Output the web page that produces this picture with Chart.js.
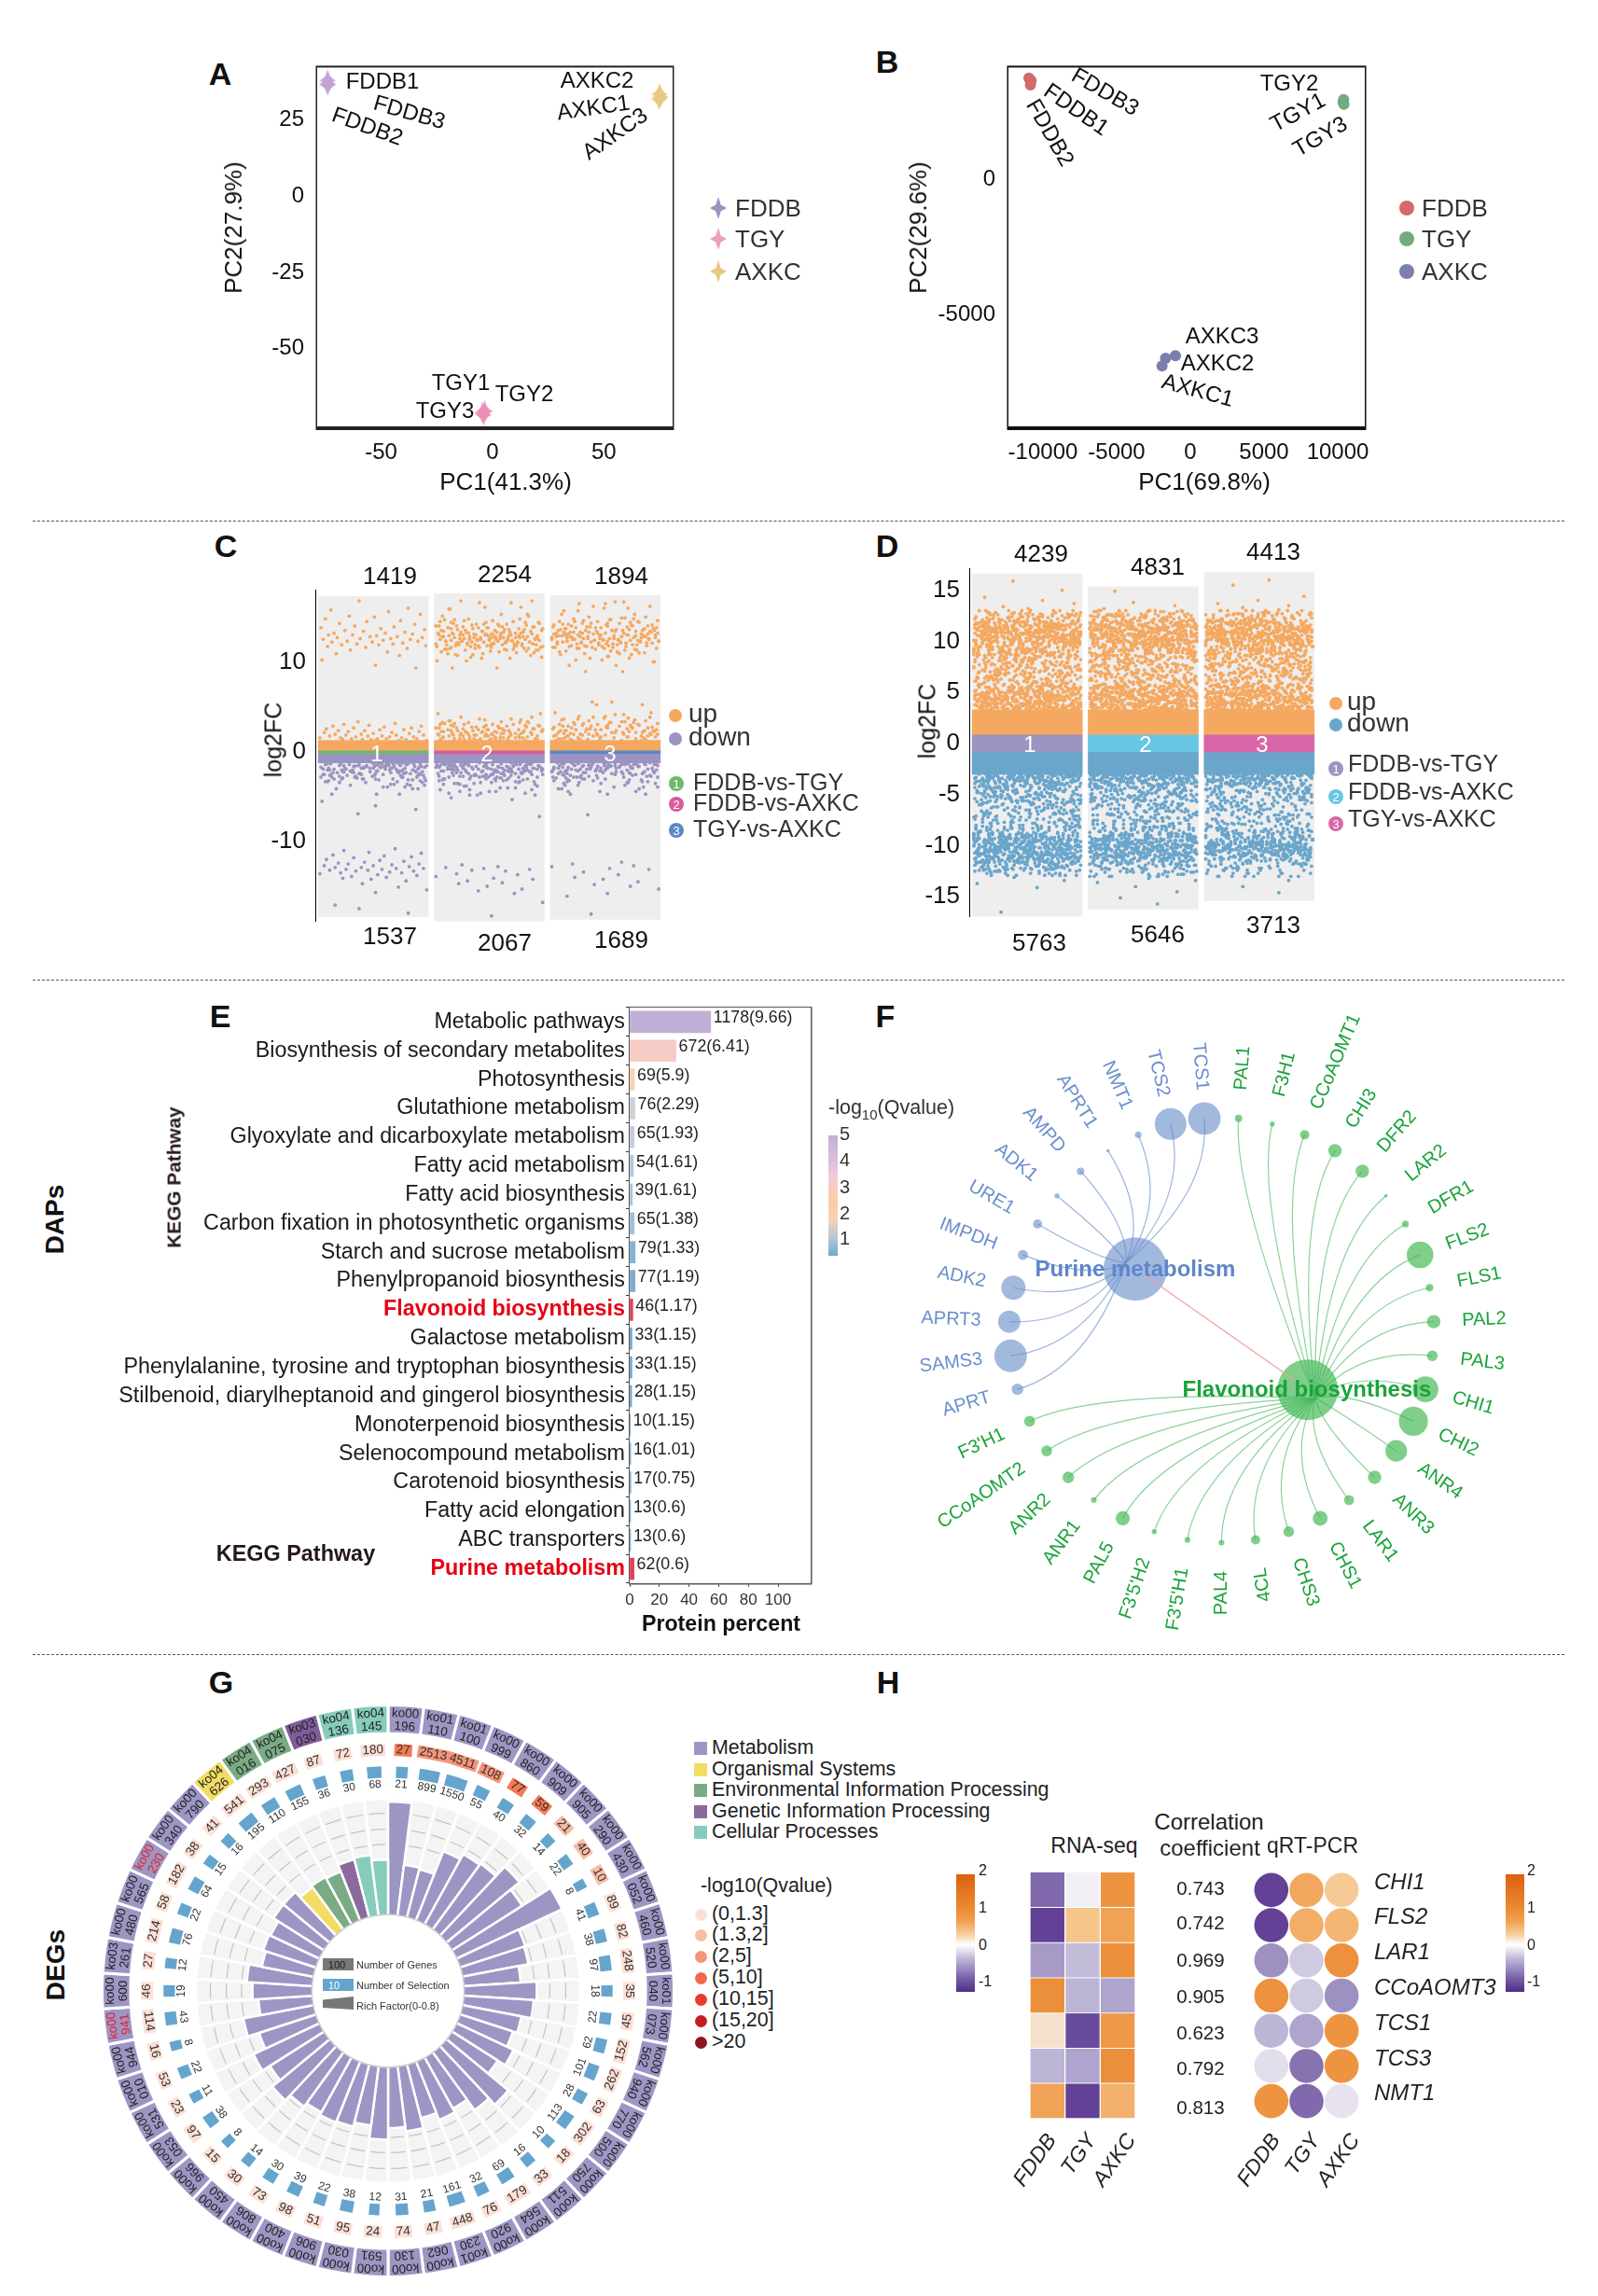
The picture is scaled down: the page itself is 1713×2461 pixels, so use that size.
<!DOCTYPE html>
<html><head><meta charset="utf-8"><title>Figure</title>
<script src="https://cdn.jsdelivr.net/npm/chart.js@4"></script>
<style>
body{margin:0;background:#fff;width:1713px;height:2461px;position:relative;overflow:hidden;font-family:"Liberation Sans",Arial,sans-serif;color:#111}
canvas{position:absolute}
.t{position:absolute;white-space:nowrap;line-height:1}
.b{position:absolute}
sub{font-size:70%;line-height:0}
</style></head><body>
<script>
// panel A and B, PCA scores
const groups = ['FDDB','TGY','AXKC'];
const aX = {FDDB:[-74,-74,-74], TGY:[-4.5,-3.5,-4], AXKC:[75,75.5,74.8]};
const aY = {FDDB:[38,37,36.5], TGY:[-71,-70.5,-71.7], AXKC:[33.5,32.5,31.8]};
const bX = {FDDB:[-10950,-10800,-10850], TGY:[10400,10360,10420], AXKC:[-1010,-1680,-1920]};
const bY = {FDDB:[3750,3650,3500], TGY:[2950,2860,2780], AXKC:[-6520,-6620,-6900]};
const aXTicks = [-50,0,50], aYTicks = [25,0,-25,-50];
const bXTicks = [-10000,-5000,0,5000,10000], bYTicks = [0,-5000];

// panel C, log2FC clouds
const cCounts = {up:[1419,2254,1894], down:[1537,2067,1689]};
const cUp1 = [16.9,16.1,15.9,15.7,15.4,15.2,15.1,14.9,14.7,14.6,14.4,14.3,14.1,14.0,13.9,13.8,13.7,13.6,13.5,13.4,13.3,13.3,13.2,13.1,13.1,13.0,12.9,12.9,12.8,12.8,12.7,12.7,12.6,12.6,12.5,12.4,12.4,12.3,12.3,12.2,12.1,12.1,12.0,12.0,11.9,11.8,11.7,11.6,11.4,11.2,11.0,10.8,10.3,9.7,9.4,
 3.4,3.2,3.1,3.0,2.9,2.9,2.8,2.7,2.7,2.6,2.5,2.5,2.4,2.4,2.3,2.3,2.2,2.2,2.1,2.1,2.0,2.0,1.9,1.9,1.9,1.8,1.8,1.8,1.7,1.7,1.7,1.6,1.6,1.6,1.5,1.5,1.5,1.5,1.4,1.4,1.4,1.4,1.3,1.3,1.3];
const cUp2 = [16.9,16.7,16.2,16.0,15.4,15.2,14.9,14.8,14.7,14.6,14.5,14.5,14.4,14.3,14.3,14.2,14.1,14.1,14.0,14.0,13.9,13.9,13.8,13.8,13.7,13.7,13.6,13.6,13.5,13.5,13.4,13.4,13.4,13.3,13.3,13.3,13.2,13.2,13.2,13.1,13.1,13.1,13.0,13.0,13.0,12.9,12.9,12.9,12.8,12.8,12.8,12.8,12.7,12.7,12.7,12.6,12.6,12.6,12.6,12.5,12.5,12.5,12.4,12.4,12.4,12.3,12.3,12.3,12.2,12.2,12.2,12.1,12.1,12.1,12.0,12.0,12.0,11.9,11.9,11.9,11.8,11.8,11.7,11.7,11.6,11.6,11.5,11.5,11.4,11.4,11.3,11.2,11.1,11.0,10.9,10.8,10.6,10.5,10.2,9.4,
 4.3,3.9,3.7,3.6,3.5,3.4,3.3,3.3,3.2,3.1,3.1,3.0,3.0,2.9,2.9,2.8,2.8,2.7,2.7,2.6,2.6,2.5,2.5,2.5,2.4,2.4,2.4,2.3,2.3,2.3,2.2,2.2,2.2,2.1,2.1,2.1,2.0,2.0,2.0,1.9,1.9,1.9,1.8,1.8,1.8,1.7,1.7,1.7,1.6,1.6,1.6,1.5,1.5,1.5,1.4,1.4,1.4,1.3,1.3,1.3];
const cUp3 = [16.8,16.6,16.3,16.1,15.8,15.4,15.1,15.0,14.9,14.8,14.7,14.6,14.6,14.5,14.4,14.4,14.3,14.2,14.2,14.1,14.1,14.0,14.0,13.9,13.9,13.8,13.8,13.7,13.7,13.6,13.6,13.6,13.5,13.5,13.4,13.4,13.4,13.3,13.3,13.3,13.2,13.2,13.2,13.1,13.1,13.1,13.0,13.0,13.0,12.9,12.9,12.9,12.8,12.8,12.8,12.7,12.7,12.7,12.6,12.6,12.6,12.5,12.5,12.5,12.4,12.4,12.4,12.3,12.3,12.3,12.2,12.2,12.2,12.1,12.1,12.0,12.0,11.9,11.9,11.8,11.8,11.7,11.7,11.6,11.6,11.5,11.4,11.3,11.2,11.1,11.0,10.9,10.7,10.5,10.3,10.1,9.7,9.0,
 5.6,5.3,4.4,4.2,4.0,3.9,3.8,3.7,3.6,3.5,3.4,3.3,3.3,3.2,3.1,3.1,3.0,3.0,2.9,2.9,2.8,2.8,2.7,2.7,2.6,2.6,2.5,2.5,2.4,2.4,2.4,2.3,2.3,2.2,2.2,2.2,2.1,2.1,2.0,2.0,2.0,1.9,1.9,1.8,1.8,1.8,1.7,1.7,1.6,1.6,1.5,1.5,1.4,1.4,1.3,1.3];
const cDown1 = [-1.2,-1.2,-1.3,-1.3,-1.3,-1.4,-1.4,-1.4,-1.5,-1.5,-1.5,-1.6,-1.6,-1.6,-1.7,-1.7,-1.7,-1.8,-1.8,-1.8,-1.9,-1.9,-2.0,-2.0,-2.0,-2.1,-2.1,-2.2,-2.2,-2.3,-2.3,-2.4,-2.4,-2.5,-2.5,-2.6,-2.6,-2.7,-2.8,-2.8,-2.9,-3.0,-3.0,-3.1,-3.2,-3.3,-3.4,-3.6,-3.7,-3.9,-4.1,-4.7,-5.5,-6.0,-6.4,-6.9,
 -10.8,-11.0,-11.2,-11.3,-11.5,-11.6,-11.7,-11.8,-12.0,-12.1,-12.2,-12.3,-12.4,-12.5,-12.5,-12.6,-12.7,-12.7,-12.8,-12.9,-12.9,-13.0,-13.0,-13.1,-13.1,-13.2,-13.2,-13.3,-13.3,-13.4,-13.5,-13.5,-13.6,-13.7,-13.8,-13.9,-14.0,-14.1,-14.2,-14.4,-14.7,-15.1,-15.4,-15.7,-17.1,-17.5,-18.0];
const cDown2 = [-1.2,-1.2,-1.2,-1.3,-1.3,-1.3,-1.4,-1.4,-1.4,-1.5,-1.5,-1.5,-1.6,-1.6,-1.6,-1.7,-1.7,-1.7,-1.8,-1.8,-1.8,-1.9,-1.9,-1.9,-2.0,-2.0,-2.0,-2.1,-2.1,-2.2,-2.2,-2.2,-2.3,-2.3,-2.4,-2.4,-2.5,-2.5,-2.6,-2.6,-2.7,-2.7,-2.8,-2.8,-2.9,-3.0,-3.0,-3.1,-3.2,-3.3,-3.4,-3.5,-3.6,-3.8,-4.0,-4.2,-4.4,-4.6,-4.8,-5.1,-5.3,-7.2,
 -12.6,-12.8,-12.9,-13.0,-13.1,-13.2,-13.3,-13.6,-13.7,-13.9,-14.1,-14.2,-14.4,-14.6,-14.7,-15.0,-15.3,-15.5,-15.8,-16.8,-18.3];
const cDown3 = [-1.2,-1.2,-1.2,-1.3,-1.3,-1.3,-1.4,-1.4,-1.4,-1.5,-1.5,-1.5,-1.6,-1.6,-1.6,-1.7,-1.7,-1.8,-1.8,-1.8,-1.9,-1.9,-2.0,-2.0,-2.1,-2.1,-2.2,-2.2,-2.3,-2.3,-2.4,-2.4,-2.5,-2.6,-2.6,-2.7,-2.8,-2.8,-2.9,-3.0,-3.1,-3.2,-3.3,-3.4,-3.5,-3.7,-3.9,-4.1,-4.4,-4.7,-7.0,
 -12.3,-12.5,-12.7,-12.8,-13.0,-13.1,-13.4,-13.7,-14.0,-14.2,-14.5,-14.8,-15.0,-15.3,-15.8,-16.1,-18.1];

// panel D
const dCounts = {up:[4239,4831,4413], down:[5763,5646,3713]};
const dUp1 = [15.9,15.0,14.3,14.0,13.7,13.4,13.2,13.0,12.8,12.7,12.6,12.5,12.4,12.3,12.2,12.1,12.0,11.9,11.9,11.8,11.7,11.7,11.6,11.6,11.5,11.5,11.4,11.4,11.3,11.3,11.2,11.2,11.1,11.1,11.0,11.0,10.9,10.9,10.8,10.8,10.7,10.7,10.6,10.6,10.5,10.5,10.4,10.4,10.3,10.3,10.2,10.2,10.1,10.1,10.0,10.0,9.9,9.9,9.8,9.8,9.7,9.7,9.6,9.5,9.5,9.4,9.4,9.3,9.2,9.2,9.1,9.0,9.0,8.9,8.8,8.7,8.7,8.6,8.5,8.4,8.3,8.2,8.1,8.0,7.9,7.8,7.7,7.6,7.5,7.4,7.3,7.2,7.1,7.0,6.9,6.8,6.7,6.6,6.5,6.4,6.3,6.2,6.1,6.0,5.9,5.8,5.7,5.6,5.5,5.5,5.4,5.3,5.3,5.2,5.1,5.1,5.0,5.0,4.9,4.9,4.8,4.8,4.7,4.7,4.6,4.6,4.5,4.5,4.4,4.4,4.3,4.3,4.2,4.2,4.1,4.1,4.0,4.0,3.9,3.9,3.8,3.8,3.7,3.7,3.6,3.6,3.5,3.5,3.4,3.4,3.3,3.3];
const dUp2 = [14.9,13.8,13.5,13.2,13.0,12.9,12.7,12.6,12.5,12.4,12.3,12.2,12.1,12.0,12.0,11.9,11.8,11.8,11.7,11.6,11.6,11.5,11.5,11.4,11.4,11.3,11.3,11.2,11.2,11.1,11.1,11.0,11.0,10.9,10.9,10.8,10.8,10.7,10.7,10.6,10.6,10.5,10.5,10.4,10.4,10.3,10.3,10.2,10.2,10.1,10.1,10.0,10.0,9.9,9.9,9.8,9.8,9.7,9.7,9.6,9.6,9.5,9.5,9.4,9.4,9.3,9.2,9.2,9.1,9.1,9.0,8.9,8.9,8.8,8.7,8.6,8.6,8.5,8.4,8.3,8.2,8.1,8.0,7.9,7.8,7.7,7.6,7.5,7.4,7.3,7.2,7.1,7.0,6.9,6.8,6.7,6.6,6.5,6.4,6.3,6.2,6.1,6.0,5.9,5.8,5.7,5.6,5.6,5.5,5.4,5.4,5.3,5.2,5.2,5.1,5.1,5.0,5.0,4.9,4.9,4.8,4.8,4.7,4.7,4.6,4.6,4.5,4.5,4.4,4.4,4.3,4.3,4.2,4.2,4.1,4.1,4.0,4.0,3.9,3.9,3.8,3.8,3.7,3.7,3.6,3.6,3.5,3.5,3.4,3.4,3.3,3.3];
const dUp3 = [16.0,15.5,14.4,14.0,13.7,13.5,13.3,13.1,13.0,12.8,12.7,12.6,12.5,12.3,12.2,12.1,12.0,12.0,11.9,11.8,11.8,11.7,11.6,11.6,11.5,11.5,11.4,11.4,11.3,11.3,11.2,11.2,11.1,11.1,11.0,11.0,10.9,10.9,10.8,10.8,10.7,10.7,10.6,10.6,10.5,10.5,10.4,10.4,10.3,10.3,10.2,10.2,10.1,10.1,10.0,10.0,9.9,9.9,9.8,9.8,9.7,9.7,9.6,9.6,9.5,9.5,9.4,9.3,9.3,9.2,9.1,9.1,9.0,8.9,8.8,8.8,8.7,8.6,8.5,8.4,8.3,8.2,8.1,8.0,7.9,7.8,7.7,7.6,7.5,7.4,7.3,7.2,7.1,7.0,6.9,6.8,6.7,6.6,6.5,6.4,6.3,6.2,6.1,6.0,5.9,5.8,5.7,5.6,5.6,5.5,5.4,5.4,5.3,5.2,5.2,5.1,5.1,5.0,5.0,4.9,4.9,4.8,4.8,4.7,4.7,4.6,4.6,4.5,4.5,4.4,4.4,4.3,4.3,4.2,4.2,4.1,4.1,4.0,4.0,3.9,3.9,3.8,3.8,3.7,3.7,3.6,3.6,3.5,3.5,3.4,3.4,3.3,3.3];
const dDown1 = [-2.7,-2.7,-2.8,-2.8,-2.9,-2.9,-3.0,-3.0,-3.1,-3.1,-3.2,-3.2,-3.3,-3.3,-3.4,-3.4,-3.5,-3.6,-3.6,-3.7,-3.7,-3.8,-3.9,-3.9,-4.0,-4.1,-4.2,-4.2,-4.3,-4.4,-4.5,-4.6,-4.7,-4.8,-4.9,-5.0,-5.1,-5.2,-5.3,-5.4,-5.5,-5.6,-5.7,-5.8,-5.9,-6.0,-6.2,-6.3,-6.5,-6.6,-6.8,-6.9,-7.1,-7.2,-7.4,-7.5,-7.7,-7.8,-8.0,-8.1,-8.2,-8.3,-8.4,-8.5,-8.6,-8.7,-8.8,-8.8,-8.9,-9.0,-9.0,-9.1,-9.2,-9.2,-9.3,-9.3,-9.4,-9.4,-9.5,-9.5,-9.6,-9.6,-9.7,-9.7,-9.8,-9.8,-9.9,-9.9,-10.0,-10.0,-10.1,-10.1,-10.2,-10.2,-10.3,-10.3,-10.4,-10.4,-10.5,-10.5,-10.6,-10.6,-10.7,-10.7,-10.8,-10.8,-10.9,-10.9,-11.0,-11.0,-11.1,-11.1,-11.2,-11.2,-11.3,-11.3,-11.4,-11.5,-11.5,-11.6,-11.6,-11.7,-11.8,-11.9,-12.0,-12.1,-12.2,-12.3,-12.4,-12.5,-12.7,-12.9,-13.1,-13.4,-13.7,-14.1,-16.5];
const dDown2 = [-2.7,-2.7,-2.8,-2.8,-2.9,-2.9,-3.0,-3.0,-3.1,-3.1,-3.2,-3.2,-3.3,-3.3,-3.4,-3.4,-3.5,-3.5,-3.6,-3.6,-3.7,-3.8,-3.8,-3.9,-4.0,-4.0,-4.1,-4.2,-4.3,-4.3,-4.4,-4.5,-4.6,-4.7,-4.8,-4.9,-5.0,-5.1,-5.2,-5.3,-5.4,-5.5,-5.6,-5.7,-5.9,-6.0,-6.1,-6.3,-6.4,-6.6,-6.7,-6.9,-7.0,-7.2,-7.3,-7.5,-7.6,-7.8,-7.9,-8.1,-8.2,-8.3,-8.4,-8.5,-8.6,-8.7,-8.8,-8.9,-8.9,-9.0,-9.1,-9.1,-9.2,-9.3,-9.3,-9.4,-9.4,-9.5,-9.5,-9.6,-9.6,-9.7,-9.7,-9.8,-9.8,-9.9,-9.9,-10.0,-10.0,-10.1,-10.1,-10.2,-10.2,-10.3,-10.3,-10.4,-10.4,-10.5,-10.5,-10.6,-10.6,-10.7,-10.7,-10.8,-10.8,-10.9,-10.9,-11.0,-11.0,-11.1,-11.2,-11.2,-11.3,-11.4,-11.4,-11.5,-11.6,-11.7,-11.8,-11.9,-12.0,-12.2,-12.3,-12.5,-12.6,-12.8,-13.0,-13.2,-13.4,-13.6,-14.0,-14.5,-15.1,-15.7];
const dDown3 = [-2.7,-2.7,-2.8,-2.8,-2.9,-2.9,-3.0,-3.0,-3.1,-3.1,-3.2,-3.2,-3.3,-3.4,-3.4,-3.5,-3.6,-3.6,-3.7,-3.8,-3.9,-3.9,-4.0,-4.1,-4.2,-4.3,-4.4,-4.5,-4.6,-4.7,-4.8,-4.9,-5.0,-5.2,-5.3,-5.5,-5.6,-5.8,-5.9,-6.1,-6.2,-6.4,-6.5,-6.7,-6.9,-7.0,-7.2,-7.4,-7.6,-7.8,-7.9,-8.1,-8.3,-8.4,-8.5,-8.6,-8.7,-8.8,-8.9,-9.0,-9.1,-9.2,-9.2,-9.3,-9.4,-9.4,-9.5,-9.6,-9.6,-9.7,-9.7,-9.8,-9.8,-9.9,-9.9,-10.0,-10.0,-10.1,-10.1,-10.2,-10.2,-10.3,-10.3,-10.4,-10.4,-10.5,-10.5,-10.6,-10.7,-10.7,-10.8,-10.9,-10.9,-11.0,-11.1,-11.2,-11.3,-11.4,-11.5,-11.7,-11.8,-12.0,-12.2,-12.4,-12.7,-13.0,-13.4,-14.0,-14.6];
// horizontal scatter inside a strip, typed once and reused
const jitter = [.37,.82,.11,.64,.93,.28,.51,.06,.75,.44,.19,.88,.33,.69,.02,.57,.97,.24,.41,.79,.14,.61,.86,.31,.09,.53,.72,.47,.95,.17,.66,.38,.84,.04,.59,.26,.91,.49,.12,.77,.35,.68,.21,.55,.98,.08,.43,.81,.29,.63,.16,.74,.03,.52,.89,.36,.7,.23,.46,.94,.13,.6,.85,.32,.07,.56,.78,.42,.18,.92,.27,.67,.05,.5,.83,.39,.15,.71,.96,.25,.58,.1,.45,.87,.34,.65,.2,.76,.01,.54,.9,.3,.62,.22,.48,.8,.4,.73,.99,.52,.15];

// panel E
const keggNames = ['Metabolic pathways','Biosynthesis of secondary metabolites','Photosynthesis','Glutathione metabolism','Glyoxylate and dicarboxylate metabolism','Fatty acid metabolism','Fatty acid biosynthesis','Carbon fixation in photosynthetic organisms','Starch and sucrose metabolism','Phenylpropanoid biosynthesis','Flavonoid biosynthesis','Galactose metabolism','Phenylalanine, tyrosine and tryptophan biosynthesis','Stilbenoid, diarylheptanoid and gingerol biosynthesis','Monoterpenoid biosynthesis','Selenocompound metabolism','Carotenoid biosynthesis','Fatty acid elongation','ABC transporters','Purine metabolism'];
const keggCounts = [1178,672,69,76,65,54,39,65,79,77,46,33,33,28,10,16,17,13,13,62];
const keggQ = ['9.66','6.41','5.9','2.29','1.93','1.61','1.61','1.38','1.33','1.19','1.17','1.15','1.15','1.15','1.15','1.01','0.75','0.6','0.6','0.6'];
const keggPercent = [54.6,31.2,3.2,3.5,3.0,2.5,1.8,3.0,3.7,3.6,2.1,1.5,1.5,1.3,0.5,0.7,0.8,0.6,0.6,2.9];
const keggColors = ['#c1b0d6','#f6cac5','#fbd2b0','#d0d0d0','#c5cfdb','#b5c9dc','#a9c4db','#9dbfda','#86b2d2','#7fadd0','#e0405a','#6fa5cb','#6fa5cb','#6fa5cb','#6fa5cb','#6fa5cb','#6fa5cb','#6fa5cb','#6fa5cb','#e0405a'];
const keggTicks = [0,20,40,60,80,100];
const keggRed = ['Flavonoid biosynthesis','Purine metabolism'];

// panel F, leaves go clockwise from the top
const leafNames = ['PAL1','F3H1','CCoAOMT1','CHI3','DFR2','LAR2','DFR1','FLS2','FLS1','PAL2','PAL3','CHI1','CHI2','ANR4','ANR3','LAR1','CHS1','CHS3','4CL','PAL4',"F3'5'H1","F3'5'H2",'PAL5','ANR1','ANR2','CCoAOMT2',"F3'H1",
 'APRT','SAMS3','APRT3','ADK2','IMPDH','URE1','ADK1','AMPD','APRT1','NMT1','TCS2','TCS1'];
const leafSizes = [4,2.7,5,7.2,7.2,1.8,3.6,14.3,4,7.2,5.8,13.8,15.6,11.6,7.2,5.4,8,5.8,5,3.1,3.1,2.7,7.6,3.1,6.2,5.8,5.8,
 6.2,17.4,12,13,5.4,4.9,2.7,4,1.8,3.6,17,17.4];
const flavonoidLeafCount = 27;

// panel G
const koIds = ['ko00196','ko01110','ko01100','ko00999','ko00860','ko00909','ko00905','ko00290','ko00430','ko00052','ko00460','ko00520','ko01040','ko00073','ko00562','ko00940','ko00770','ko00500','ko00750','ko00511','ko00564','ko00920','ko01230','ko00062','ko00130','ko00591','ko00030','ko00906','ko00400','ko00806','ko00450','ko00966','ko00053','ko00531','ko00010','ko00944','ko00941','ko00600','ko03261','ko00480','ko00565','ko00230','ko00340','ko00790','ko04626','ko04016','ko04075','ko03030','ko04136','ko04145'];
const koOrganismal = ['ko04626'], koEnvironmental = ['ko04016','ko04075'], koGenetic = ['ko03030'], koCellular = ['ko04136','ko04145'];
const koRed = ['ko00230','ko00941'];
const geneNumbers = [27,2513,4511,108,77,59,21,40,10,89,82,248,35,45,152,262,63,302,18,33,179,76,448,47,74,24,95,51,98,73,30,15,97,23,53,16,114,46,27,214,58,182,38,41,541,293,427,87,72,180];
const qBins = [3,2,2,2,3,3,1,1,1,0,0,0,0,0,0,0,0,0,0,0,0,0,0,0,0,0,0,0,0,0,0,0,0,0,0,0,0,0,0,0,0,0,0,0,0,0,0,0,0,0];
const selectionNumbers = [21,899,1550,55,40,32,14,22,8,41,38,97,18,22,62,101,28,113,10,16,69,32,161,21,31,12,38,22,39,30,14,8,38,11,22,8,43,19,12,76,22,64,15,16,195,110,155,36,30,68];
const richFactor = [.78,.35,.34,.51,.55,.56,.65,.57,.80,.47,.46,.39,.50,.48,.41,.38,.43,.37,.55,.49,.40,.43,.38,.45,.42,.50,.41,.44,.45,.43,.46,.51,.44,.50,.41,.49,.37,.41,.45,.36,.38,.37,.41,.41,.36,.37,.36,.41,.42,.38];
const richGrid = [.485,.59,.70];
const pathwayLegend = ['Metabolism','Organismal Systems','Environmental Information Processing','Genetic Information Processing','Cellular Processes'];
const qLegend = ['(0,1.3]','(1.3,2]','(2,5]','(5,10]','(10,15]','(15,20]','>20'];

// panel H
const hGenes = ['CHI1','FLS2','LAR1','CCoAOMT3','TCS1','TCS3','NMT1'];
const correlations = ['0.743','0.742','0.969','0.905','0.623','0.792','0.813'];
const rnaSeq = [[-.85,-.03,1],[-1.05,.5,.85],[-.6,-.4,1.1],[1.1,-.45,-.55],[.2,-1,.95],[-.45,-.55,1.1],[.85,-1.05,.7]];
const qpcr = [[-1.05,.8,.45],[-1.05,.75,.65],[-.65,-.3,1.05],[1.05,-.3,-.65],[-.45,-.55,1],[-.15,-.8,1],[1,-.85,-.12]];

// ---- helpers ----
Chart.defaults.font.family = '"Liberation Sans",Arial,sans-serif';
Chart.defaults.color = '#111';
Chart.defaults.animation = false;
Chart.defaults.responsive = false;
Chart.defaults.devicePixelRatio = 1;
Chart.defaults.plugins.legend.display = false;
Chart.defaults.plugins.tooltip.enabled = false;

function addCanvas(x, y, w, h) {
  const c = document.createElement('canvas');
  c.width = w; c.height = h;
  c.style.left = x + 'px'; c.style.top = y + 'px';
  document.body.appendChild(c);
  return c.getContext('2d');
}
function txt(s, x, y, o) {
  o = o || {};
  const e = document.createElement('div');
  e.className = 't';
  e.innerHTML = s;
  e.style.left = x + 'px'; e.style.top = y + 'px';
  e.style.fontSize = (o.size || 24) + 'px';
  if (o.bold) e.style.fontWeight = 'bold';
  if (o.italic) e.style.fontStyle = 'italic';
  if (o.color) e.style.color = o.color;
  const tx = o.left ? '0' : '-50%';
  e.style.transform = 'translate(' + tx + ',-50%) rotate(' + (o.rot || 0) + 'deg)';
  document.body.appendChild(e);
}
function box(x, y, w, h, css) {
  const e = document.createElement('div');
  e.className = 'b';
  e.style.cssText = 'left:' + x + 'px;top:' + y + 'px;width:' + w + 'px;height:' + h + 'px;' + css;
  document.body.appendChild(e);
}
function dot(x, y, r, col) { box(x - r, y - r, 2 * r, 2 * r, 'border-radius:50%;background:' + col); }
function setTicks(arr) { return s => { s.ticks = arr.map(v => ({value: v})); }; }

// x0..x1, y0..y1 is the plot area in page pixels
function plot(x0, y0, x1, y1, cfg, pads) {
  const p = Object.assign({L: 110, R: 50, T: 20, B: 60}, pads || {});
  const ctx = addCanvas(x0 - p.L, y0 - p.T, p.L + x1 - x0 + p.R, p.T + y1 - y0 + p.B);
  const sc = cfg.options.scales;
  sc.x.afterFit = s => { s.height = p.B; };
  sc.y.afterFit = s => { s.width = p.L; };
  cfg.options.layout = {padding: {top: p.T, right: p.R, left: 0, bottom: 0}};
  return new Chart(ctx, cfg);
}
function frame(widths, col) {
  return {id: 'frame', afterDraw(ch) {
    const a = ch.chartArea, c = ch.ctx;
    c.save(); c.fillStyle = col;
    c.fillRect(a.left - widths.l, a.top - widths.t, widths.l, a.bottom - a.top + widths.t + widths.b);
    c.fillRect(a.right, a.top - widths.t, widths.r, a.bottom - a.top + widths.t + widths.b);
    c.fillRect(a.left, a.top - widths.t, a.right - a.left, widths.t);
    c.fillRect(a.left, a.bottom, a.right - a.left, widths.b);
    c.restore();
  }};
}
function starMark(col) {
  const c = document.createElement('canvas');
  c.width = 18; c.height = 24;
  const g = c.getContext('2d');
  g.fillStyle = col;
  g.beginPath(); g.moveTo(9, 0);
  g.quadraticCurveTo(11, 10, 18, 12); g.quadraticCurveTo(11, 14, 9, 24);
  g.quadraticCurveTo(7, 14, 0, 12); g.quadraticCurveTo(7, 10, 9, 0);
  g.fill();
  return c;
}
function pts(xs, ys) { return xs.map((v, i) => ({x: v, y: ys[i]})); }
function putText(c, s, x, y, rot, font, col, align) {
  c.save(); c.translate(x, y); c.rotate(rot * Math.PI / 180);
  c.font = font; c.fillStyle = col; c.textAlign = align || 'center'; c.textBaseline = 'middle';
  c.fillText(s, 0, 0); c.restore();
}
const FS = '"Liberation Sans",Arial,sans-serif';

// ---- panel letters, rules, side titles ----
[['A',236,79],['B',951,66],['C',242,585],['D',951,585],['E',236,1089],['F',949,1089],['G',237,1803],['H',952,1803]].forEach(a => txt(a[0], a[1], a[2], {size: 34, bold: true}));
[558,1050,1773].forEach(y => box(35, y, 1642, 0, 'border-top:1.5px dashed #555'));
txt('DAPs', 59, 1307, {size: 28, bold: true, rot: -90});
txt('DEGs', 60, 2106, {size: 28, bold: true, rot: -90});

// ---- A ----
const tickA = {font: {size: 24}, padding: 6, autoSkip: false, maxRotation: 0, callback: v => String(v)};
const colA = {FDDB: '#c2a3d3', TGY: '#eb8fb8', AXKC: '#e8c87e'};
plot(340, 72, 721, 457, {type: 'scatter',
  data: {datasets: groups.map(g => ({label: g, data: pts(aX[g], aY[g]), pointStyle: starMark(colA[g])}))},
  options: {scales: {
    x: {min: -78.7, max: 80.9, grid: {display: false}, border: {display: false}, ticks: tickA, afterBuildTicks: setTicks(aXTicks)},
    y: {min: -75.5, max: 42.2, grid: {display: false}, border: {display: false}, ticks: tickA, afterBuildTicks: setTicks(aYTicks)}}},
  plugins: [frame({l: 1.5, r: 1.5, t: 2, b: 4}, '#222')]});
txt('PC1(41.3%)', 542, 516, {size: 26});
txt('PC2(27.9%)', 250, 244, {size: 26, rot: -90});
[['FDDB1',410,87,0],['FDDB3',439,120,16],['FDDB2',394,135,20],['AXKC2',640,86,0],['AXKC1',636,115,-8],['AXKC3',659,143,-35],['TGY1',494,410,0],['TGY2',562,422,0],['TGY3',477,440,0]].forEach(a => txt(a[0], a[1], a[2], {size: 24, rot: a[3]}));
const legA = ['#9a93bf','#eb9dc1','#e8c87e'];
groups.forEach((g, i) => {
  const y = [223,256,291][i];
  box(761, y - 12, 18, 24, 'background:' + legA[i] + ';clip-path:polygon(50% 0,65% 35%,100% 50%,65% 65%,50% 100%,35% 65%,0 50%,35% 35%)');
  txt(g, 788, y, {size: 26, left: true, color: '#333'});
});

// ---- B ----
const colB = {FDDB: '#d46a6a', TGY: '#74aa80', AXKC: '#7b7fae'};
plot(1081, 72, 1463, 457, {type: 'scatter',
  data: {datasets: groups.map(g => ({label: g, data: pts(bX[g], bY[g]), pointRadius: 6, borderWidth: 0, backgroundColor: colB[g]}))},
  options: {scales: {
    x: {min: -12340, max: 11835, grid: {display: false}, border: {display: false}, ticks: tickA, afterBuildTicks: setTicks(bXTicks)},
    y: {min: -9138, max: 4138, grid: {display: false}, border: {display: false}, ticks: tickA, afterBuildTicks: setTicks(bYTicks)}}},
  plugins: [frame({l: 1.5, r: 1.5, t: 2, b: 4}, '#111')]});
txt('PC1(69.8%)', 1291, 516, {size: 26});
txt('PC2(29.6%)', 984, 244, {size: 26, rot: -90});
[['FDDB3',1185,98,30],['FDDB1',1154,117,35],['FDDB2',1126,142,60],['TGY2',1382,89,0],['TGY1',1391,120,-28],['TGY3',1415,146,-30],['AXKC3',1310,360,0],['AXKC2',1305,389,0],['AXKC1',1284,418,15]].forEach(a => txt(a[0], a[1], a[2], {size: 24, rot: a[3]}));
groups.forEach((g, i) => {
  const y = [223,256,291][i];
  dot(1508, y, 8, colB[g]);
  txt(g, 1524, y, {size: 26, left: true, color: '#333'});
});

// ---- C and D ----
// passes[g] layers per strip, layers after the first only for |v| below limit
function strip(lists, passes, limit) {
  const out = [];
  lists.forEach((ys, g) => {
    for (let p = 0; p < passes[g]; p++) ys.forEach((v, i) => {
      if (p > 0 && Math.abs(v) > limit) return;
      const j = jitter[(i * (p + 1) + p * 37 + g * 17) % jitter.length];
      out.push({x: g + .03 + .94 * j, y: v});
    });
  });
  return out;
}
const band = (lo, hi) => lo.map((v, g) => ({x: g + .5, y: [v, hi[g]]}));
function cloudChart(x0, x1, y0, y1, yMin, yMax, ticks, s) {
  const barOpt = {type: 'bar', grouped: false, barThickness: 118, borderWidth: 0};
  return plot(x0, y0, x1, y1, {type: 'bar',
    data: {datasets: [
      Object.assign({}, barOpt, {data: band(s.midLo, s.midHi), backgroundColor: s.midCols, order: 1}),
      Object.assign({}, barOpt, {data: band(s.upLo, s.upHi), backgroundColor: s.upCol, order: 2}),
      Object.assign({}, barOpt, {data: band(s.downLo, s.downHi), backgroundColor: s.downCol, order: 2}),
      {type: 'scatter', data: s.upPts, backgroundColor: s.upCol, pointRadius: s.r, borderWidth: 0, order: 3},
      {type: 'scatter', data: s.downPts, backgroundColor: s.downCol, pointRadius: s.r, borderWidth: 0, order: 3},
      Object.assign({}, barOpt, {data: band(s.colLo, s.colHi), backgroundColor: '#eeeeee', order: 9})
    ]},
    options: {scales: {
      x: {type: 'linear', display: false, offset: false, min: 0, max: 3},
      y: {min: yMin, max: yMax, grid: {display: false}, border: {display: true, color: '#000', width: 1},
        ticks: {font: {size: 26}, padding: 2, autoSkip: false, callback: v => String(v)}, afterBuildTicks: setTicks(ticks)}}}}, {L: 60, R: 20, T: 10, B: 10});
}
cloudChart(337.6, 710.6, 625, 995, -18.9, 18.1, [10,0,-10], {
  colLo: [-18.4,-19,-18.7], colHi: [17.4,17.7,17.5],
  midLo: [-.15,-.15,-.15], midHi: [.15,.15,.15], midCols: ['#6db96d','#d65ba0','#5a89c9'],
  upLo: [.15,.15,.15], upHi: [1.3,1.3,1.3], downLo: [-1.2,-1.2,-1.2], downHi: [-.15,-.15,-.15],
  upCol: '#f5a860', downCol: '#9b93c2', r: 1.9,
  upPts: strip([cUp1,cUp2,cUp3], [1,2,2], 99), downPts: strip([cDown1,cDown2,cDown3], [3,3,3], 5)});
cloudChart(1039, 1412, 602, 990, -16.93, 17.1, [15,10,5,0,-5,-10,-15], {
  colLo: [-16.9,-16.2,-15.35], colHi: [16.6,15.35,16.75],
  midLo: [-.83,-.83,-.83], midHi: [.83,.83,.83], midCols: ['#9d94c1','#67c6e3','#d966a8'],
  upLo: [.83,.83,.83], upHi: [3.3,3.3,3.3], downLo: [-3,-3,-3], downHi: [-.83,-.83,-.83],
  upCol: '#f5a860', downCol: '#6aa5cb', r: 1.9,
  upPts: strip([dUp1,dUp2,dUp3], [8,8,8], 13), downPts: strip([dDown1,dDown2,dDown3], [8,8,8], 13)});
[[418,617],[541,615],[666,617]].forEach((a, i) => txt(cCounts.up[i], a[0], a[1], {size: 26}));
[[418,1003],[541,1010],[666,1007]].forEach((a, i) => txt(cCounts.down[i], a[0], a[1], {size: 26}));
[[1116,593],[1241,607],[1365,591]].forEach((a, i) => txt(dCounts.up[i], a[0], a[1], {size: 26}));
[[1114,1010],[1241,1001],[1365,991]].forEach((a, i) => txt(dCounts.down[i], a[0], a[1], {size: 26}));
[404,522,654].forEach((x, i) => txt(i + 1, x, 808, {size: 24, color: '#fff'}));
[1104,1228,1353].forEach((x, i) => txt(i + 1, x, 798, {size: 24, color: '#fff'}));
txt('log2FC', 293, 793, {size: 25, rot: -90});
txt('log2FC', 994, 773, {size: 25, rot: -90});
dot(724, 767, 7, '#f5a860'); txt('up', 738, 765, {size: 28, left: true, color: '#333'});
dot(724, 792, 7, '#9b93c2'); txt('down', 738, 790, {size: 28, left: true, color: '#333'});
[['FDDB-vs-TGY',838,'#6db96d'],['FDDB-vs-AXKC',860,'#d65ba0'],['TGY-vs-AXKC',888,'#5a89c9']].forEach((a, i) => {
  dot(725, a[1] + 2, 8, a[2]);
  txt(i + 1, 725, a[1] + 2, {size: 13, color: '#fff'});
  txt(a[0], 743, a[1], {size: 25, left: true, color: '#333'});
});
dot(1432, 754, 7, '#f5a860'); txt('up', 1444, 752, {size: 28, left: true, color: '#333'});
dot(1432, 777, 7, '#6aa5cb'); txt('down', 1444, 775, {size: 28, left: true, color: '#333'});
[['FDDB-vs-TGY',818,'#9d94c1'],['FDDB-vs-AXKC',848,'#67c6e3'],['TGY-vs-AXKC',877,'#d966a8']].forEach((a, i) => {
  dot(1432, a[1] + 6, 8, a[2]);
  txt(i + 1, 1432, a[1] + 6, {size: 13, color: '#fff'});
  txt(a[0], 1445, a[1], {size: 25, left: true, color: '#333'});
});

// ---- E ----
plot(675, 1075, 869, 1697, {type: 'bar',
  data: {labels: keggNames, datasets: [{data: keggPercent, backgroundColor: keggColors, barThickness: 23}]},
  options: {indexAxis: 'y', scales: {
    x: {min: 0, max: 122, grid: {drawOnChartArea: false, tickLength: 4, tickColor: '#555'}, border: {display: false},
      ticks: {font: {size: 17}, padding: 4, color: '#333', maxRotation: 0, autoSkip: false, callback: v => String(v)}, afterBuildTicks: setTicks(keggTicks)},
    y: {grid: {drawOnChartArea: false, tickLength: 4, tickColor: '#333'}, border: {display: false},
      ticks: {autoSkip: false, padding: 1,
        font: c => ({size: 23.3, weight: keggRed.includes(keggNames[c.index]) ? 'bold' : 'normal'}),
        color: c => keggRed.includes(keggNames[c.index]) ? '#e60012' : '#1a1a1a'}}}},
  plugins: [frame({l: 1, r: 1.5, t: 1, b: 1.5}, '#555'), {id: 'barText', afterDatasetsDraw(ch) {
    const xs = ch.scales.x, ys = ch.scales.y;
    keggCounts.forEach((n, i) => putText(ch.ctx, n + '(' + keggQ[i] + ')', xs.getPixelForValue(keggPercent[i]) + 3, ys.getPixelForValue(i) - 4, 0, '17.8px ' + FS, '#222', 'left'));
  }}]}, {L: 650, R: 30, T: 10, B: 40});
txt('KEGG Pathway', 187, 1262, {size: 20.8, bold: true, rot: -90, color: '#231815'});
txt('KEGG Pathway', 317, 1666, {size: 23.4, bold: true, color: '#231815'});
txt('Protein percent', 773, 1741, {size: 23.2, bold: true});
txt('-log<sub>10</sub>(Qvalue)', 888, 1188, {size: 21.5, left: true, color: '#333'});
box(888, 1217, 10, 129, 'background:linear-gradient(#c3afd8 0%,#d9bfdd 20%,#f5cad8 35%,#f9cda6 55%,#f5d3b8 70%,#b9c7d3 85%,#6fa8cc 100%)');
[[5,1215],[4,1243],[3,1272],[2,1300],[1,1327]].forEach(a => { txt(a[0], 900, a[1], {size: 20, left: true, color: '#333'}); });

// ---- F ----
const fCenter = {x: 805, y: 797}, fRadius = 510, labelRadius = 578;
const hubs = [{name: 'Flavonoid biosynthesis', x: 1012, y: 940, r: 32.5, cx: 1030, cy: 960, col: '#7fcf8a', line: 'rgba(60,180,85,.6)', text: '#1aa33a'},
              {name: 'Purine metabolism', x: 598, y: 650, r: 34, cx: 575, cy: 635, col: '#a2b9de', line: 'rgba(100,140,205,.65)', text: '#5e86c8'}];
const leaves = leafNames.map((n, i) => {
  const deg = (i + .5) * 360 / leafNames.length, a = deg * Math.PI / 180;
  return {name: n, deg, x: fCenter.x + fRadius * Math.sin(a), y: fCenter.y - fRadius * Math.cos(a), r: leafSizes[i], hub: i < flavonoidLeafCount ? 0 : 1};
});
plot(950, 1070, 1650, 1770, {type: 'bubble',
  data: {datasets: [
    {data: leaves.map(l => ({x: l.x, y: l.y, r: l.r})), backgroundColor: leaves.map(l => hubs[l.hub].col), borderWidth: 0},
    {data: hubs.map(h => ({x: h.x, y: h.y, r: h.r})), backgroundColor: hubs.map(h => h.col), borderWidth: 0}]},
  options: {clip: false, scales: {x: {display: false, min: 0, max: 1568}, y: {display: false, min: 0, max: 1568, reverse: true}}},
  plugins: [{id: 'edges', afterDatasetsDraw(ch) {
    const c = ch.ctx, X = v => ch.scales.x.getPixelForValue(v), Y = v => ch.scales.y.getPixelForValue(v);
    c.save(); c.lineWidth = 1.2;
    leaves.forEach(l => {
      const h = hubs[l.hub];
      const qx = l.x + (fCenter.x - l.x) * .35, qy = l.y + (fCenter.y - l.y) * .35;
      c.strokeStyle = h.line;
      c.beginPath(); c.moveTo(X(l.x), Y(l.y)); c.quadraticCurveTo(X(qx), Y(qy), X(h.cx), Y(h.cy)); c.stroke();
      const a = l.deg * Math.PI / 180, tx = fCenter.x + labelRadius * Math.sin(a), ty = fCenter.y - labelRadius * Math.cos(a);
      const flip = l.deg >= 168;
      putText(c, l.name, X(tx), Y(ty), flip ? l.deg - 270 : l.deg - 90, '20px ' + FS, l.hub ? '#6a8fcc' : '#1aa33a', flip ? 'right' : 'left');
    });
    c.strokeStyle = '#f2a0a0';
    c.beginPath(); c.moveTo(X(625), Y(668)); c.lineTo(X(985), Y(920)); c.stroke();
    putText(c, hubs[1].name, X(598), Y(652), 0, 'bold 24px ' + FS, hubs[1].text);
    putText(c, hubs[0].name, X(1010), Y(942), 0, 'bold 24px ' + FS, hubs[0].text);
    c.restore();
  }}]}, {L: 40, R: 40, T: 40, B: 40});

// ---- G ----
const catCols = {m: '#9d96c4', o: '#f2dc63', e: '#7aab85', g: '#7f5d9a', c: '#85ccbd'};
function koCol(k) {
  if (koOrganismal.includes(k)) return catCols.o;
  if (koEnvironmental.includes(k)) return catCols.e;
  if (koGenetic.includes(k)) return catCols.g;
  if (koCellular.includes(k)) return catCols.c;
  return catCols.m;
}
const qBinCols = ['#fde0d5','#f8bda5','#f59479','#f57a55'];
const cellDeg = 360 / koIds.length;
const selArcs = [], selCols = [];
selectionNumbers.forEach(n => {
  const w = 1.2 + .6 * Math.log(n);
  selArcs.push((cellDeg - w) / 2, w, (cellDeg - w) / 2);
  selCols.push('rgba(0,0,0,0)', '#65a5cd', 'rgba(0,0,0,0)');
});
new Chart(addCanvas(108, 1826, 616, 616), {type: 'doughnut',
  data: {labels: selArcs.map((_, i) => i), datasets: [
    {data: koIds.map(() => 1), backgroundColor: koIds.map(koCol), borderColor: '#fff', borderWidth: 3, weight: 31},
    {data: koIds.map(() => 1), backgroundColor: 'rgba(0,0,0,0)', borderWidth: 0, weight: 36},
    {data: selArcs, backgroundColor: selCols, borderWidth: 0, weight: 12.5}]},
  options: {cutout: 228.5},
  plugins: [{id: 'ringText', afterDatasetsDraw(ch) {
    const c = ch.ctx;
    ch.getDatasetMeta(0).data.forEach((a, i) => {
      const mid = (a.startAngle + a.endAngle) / 2, rot = (mid + Math.PI / 2) * 180 / Math.PI;
      const at = r => [a.x + r * Math.cos(mid), a.y + r * Math.sin(mid)];
      const col = koRed.includes(koIds[i]) ? '#e8202a' : '#222';
      let p = at(a.outerRadius - 9);
      putText(c, koIds[i].slice(0, 4), p[0], p[1], rot, '13.5px ' + FS, col);
      p = at(a.outerRadius - 23);
      putText(c, koIds[i].slice(4), p[0], p[1], rot, '13.5px ' + FS, col);
      const upright = rot > 90 && rot < 270 ? rot + 180 : rot;
      const q = ch.getDatasetMeta(1).data[i], qr = (q.innerRadius + q.outerRadius) / 2;
      p = at(qr);
      c.save(); c.translate(p[0], p[1]); c.rotate(upright * Math.PI / 180);
      c.font = '13.5px ' + FS;
      const tw = c.measureText(geneNumbers[i]).width + 4;
      c.fillStyle = qBinCols[qBins[i]];
      c.fillRect(-tw / 2, -6.5, tw, 13);
      c.restore();
      putText(c, geneNumbers[i], p[0], p[1], upright, '13.5px ' + FS, '#333');
      p = at(ch.getDatasetMeta(2).data[0].innerRadius - 7);
      putText(c, selectionNumbers[i], p[0], p[1], upright, '12px ' + FS, '#333');
    });
  }}]});
const barCols = koIds.map(k => koGenetic.includes(k) ? '#8c6a9e' : koCol(k));
new Chart(addCanvas(205, 1923, 422, 422), {type: 'polarArea',
  data: {labels: koIds, datasets: [
    {data: richFactor, backgroundColor: barCols, borderColor: '#fff', borderWidth: 2.5},
    {data: koIds.map(() => .8), backgroundColor: '#f4f4f4', borderColor: '#fff', borderWidth: 2.5}]},
  options: {scales: {r: {min: -.5257, max: .832, grid: {display: false}, angleLines: {display: false}, ticks: {display: false}, pointLabels: {display: false}}}},
  plugins: [{id: 'richRings', afterDatasetDraw(ch, args) {
    if (args.index !== 1) return;
    const c = ch.ctx, s = ch.scales.r;
    c.save(); c.strokeStyle = '#c4c4c4'; c.lineWidth = 1.2;
    args.meta.data.forEach(a => richGrid.forEach(v => {
      c.beginPath(); c.arc(a.x, a.y, s.getDistanceFromCenterForValue(v), a.startAngle + .018, a.endAngle - .018); c.stroke();
    }));
    c.restore();
  }, afterDatasetsDraw(ch) {
    const c = ch.ctx, s = ch.scales.r;
    c.save(); c.fillStyle = '#fff'; c.strokeStyle = '#cfcfcf'; c.lineWidth = 1.5;
    c.beginPath(); c.arc(s.xCenter, s.yCenter, s.getDistanceFromCenterForValue(0), 0, 2 * Math.PI); c.fill(); c.stroke();
    c.restore();
  }}]});
box(346, 2099, 33, 13, 'background:#777'); txt('100', 361, 2105.5, {size: 11, color: '#222'});
box(346, 2121, 33, 13, 'background:#65a5cd'); txt('10', 358, 2127.5, {size: 11, color: '#fff'});
box(346, 2140, 33, 14, 'background:#777;clip-path:polygon(0 25%,100% 0,100% 100%,0 85%)');
txt('Number of Genes', 382, 2106, {size: 11, left: true, color: '#333'});
txt('Number of Selection', 382, 2128, {size: 11, left: true, color: '#333'});
txt('Rich Factor(0-0.8)', 382, 2150, {size: 11, left: true, color: '#333'});
[catCols.m, catCols.o, catCols.e, '#8c6a9e', catCols.c].forEach((col, i) => {
  const y = [1874,1897,1919,1942,1964][i];
  box(744, y - 7, 14, 14, 'background:' + col);
  txt(pathwayLegend[i], 763, y, {size: 21.4, left: true, color: '#222'});
});
txt('-log10(Qvalue)', 751, 2022, {size: 21.4, left: true, color: '#222'});
['#fde0d5','#f8bda5','#f59479','#ef6a4c','#e83b2f','#c31d22','#8e1620'].forEach((col, i) => {
  const y = [2052,2074,2097,2120,2143,2166,2189][i];
  dot(751, y, 6.5, col);
  txt(qLegend[i], 763, y, {size: 21.4, left: true, color: '#222'});
});

// ---- H ----
const heatStops = [[-1.1,[90,55,144]],[-.5,[182,174,210]],[0,[246,243,247]],[.5,[245,197,140]],[1,[238,148,64]],[2,[221,96,14]]];
function heatColor(v) {
  for (let i = 1; i < heatStops.length; i++) {
    if (v <= heatStops[i][0]) {
      const a = heatStops[i - 1], b = heatStops[i], t = (v - a[0]) / (b[0] - a[0]);
      return 'rgb(' + a[1].map((c, k) => Math.round(c + (b[1][k] - c) * t)).join(',') + ')';
    }
  }
  return 'rgb(221,96,14)';
}
const hLabels = {id: 'hLabels', afterDraw(ch) {
  const xs = ch.scales.x;
  groups.forEach((g, i) => putText(ch.ctx, g, xs.getPixelForTick(i) + 5 + i * 5, ch.chartArea.bottom + 19, -55, 'italic 23px ' + FS, '#222', 'right'));
}};
plot(1104, 2007, 1217, 2271, {type: 'bar',
  data: {labels: groups, datasets: rnaSeq.map(row => ({data: row.map(() => 1), backgroundColor: row.map(heatColor), borderColor: '#fff', borderWidth: 1, categoryPercentage: 1, barPercentage: 1}))},
  options: {scales: {
    x: {stacked: true, grid: {display: false}, border: {display: false}, ticks: {display: false}},
    y: {stacked: true, display: false, min: 0, max: 7, reverse: true}}},
  plugins: [hLabels]}, {L: 40, R: 30, T: 5, B: 90});
plot(1344, 2007, 1457, 2271, {type: 'scatter',
  data: {datasets: qpcr.map((row, r) => ({data: row.map((_, k) => ({x: groups[k], y: r})), backgroundColor: row.map(heatColor), pointRadius: 18.3, borderWidth: 0}))},
  options: {clip: false, scales: {
    x: {type: 'category', labels: groups, offset: true, grid: {display: false}, border: {display: false}, ticks: {display: false}},
    y: {display: false, min: -.5, max: 6.5, reverse: true}}},
  plugins: [hLabels]}, {L: 40, R: 30, T: 25, B: 90});
txt('RNA-seq', 1173, 1978, {size: 23, color: '#222'});
txt('Correlation', 1296, 1953, {size: 24, color: '#222'});
txt('coefficient', 1297, 1981, {size: 24, color: '#222'});
txt('qRT-PCR', 1407, 1978, {size: 23, color: '#222'});
[2024,2061,2101,2140,2179,2217,2259].forEach((y, i) => txt(correlations[i], 1287, y, {size: 20.5, color: '#222'}));
[2017,2054,2092,2130,2168,2206,2243].forEach((y, i) => txt(hGenes[i], 1473, y, {size: 24, italic: true, left: true, color: '#222'}));
[[1025,1049],[1614,1637]].forEach(a => {
  box(a[0], 2009, 20, 126, 'background:linear-gradient(#dd600e 0%,#ea8a33 29%,#f0a152 40%,#f6c894 50%,#fff 60%,#bdb6d8 72%,#7a62a8 88%,#4f2c87 100%)');
  [[2,2005],[1,2045],[0,2085],[-1,2124]].forEach(t => txt(t[0], a[1], t[1], {size: 16, left: true, color: '#222'}));
});
</script>
</body></html>
